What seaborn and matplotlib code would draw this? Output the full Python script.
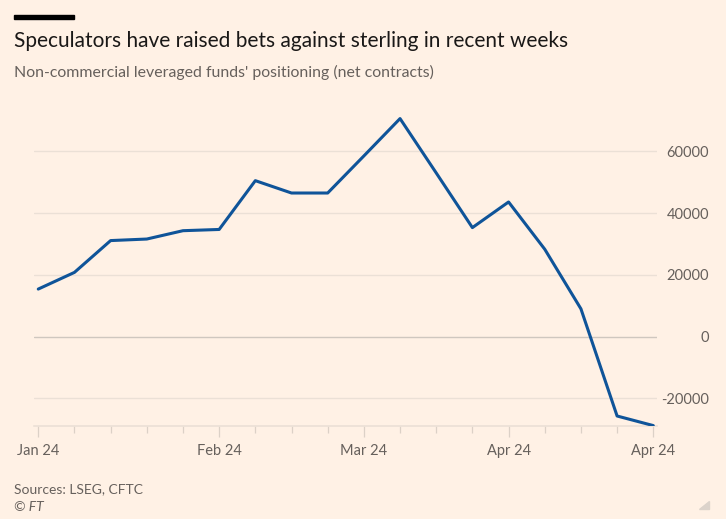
import pandas as pd
import seaborn as sns
import matplotlib.pyplot as plt
import matplotlib.dates as mdates
from matplotlib.patches import Polygon, Rectangle

# weekly CFTC positioning, GBP non-commercial leveraged funds
dates = pd.date_range("2024-01-02", periods=18, freq="7D")
net_contracts = [15400, 20800, 31100, 31600, 34300, 34700, 50500, 46500, 46500,
                 58500, 70600, 53000, 35300, 43600, 28300, 9000, -25700, -28800]
label_dates = ["2024-01-02", "2024-02-06", "2024-03-05", "2024-04-02", "2024-04-30"]
label_text = ["Jan 24", "Feb 24", "Mar 24", "Apr 24", "Apr 24"]
y_ticks = [-20000, 0, 20000, 40000, 60000]

title = "Speculators have raised bets against sterling in recent weeks"
subtitle = "Non-commercial leveraged funds' positioning (net contracts)"
source = "Sources: LSEG, CFTC"

bg = "#FFF1E5"
grey_text = "#66605C"
grid_col = "#EBE0D6"
line_col = "#0F5499"

sns.set_theme(style="white")
plt.rcParams["font.family"] = ["Lato", "DejaVu Sans"]

df = pd.DataFrame({"date": dates, "net": net_contracts})

fig = plt.figure(figsize=(7.26, 5.19), dpi=100, facecolor=bg)
ax = fig.add_axes([0.0468, 0.180, 0.9056 - 0.0468, 0.7977 - 0.180])
ax.set_facecolor(bg)

for v in y_ticks:
    ax.axhline(v, color="#CFC7BF" if v == 0 else grid_col, linewidth=1.0, zorder=1)

sns.lineplot(data=df, x="date", y="net", color=line_col, linewidth=2.2, ax=ax, zorder=3)

ax.set_xlim(dates[0] - pd.Timedelta(days=0.83), dates[-1] + pd.Timedelta(days=0.81))
ax.set_ylim(df["net"].min(), 75000)

for s in ["top", "left", "right"]:
    ax.spines[s].set_visible(False)
ax.spines["bottom"].set_color(grid_col)
ax.spines["bottom"].set_linewidth(1.2)

ax.set_xticks(pd.to_datetime(label_dates))
ax.set_xticklabels(label_text)
ax.set_xticks(dates, minor=True)
ax.tick_params(axis="x", which="major", length=8, width=0.9, color="#DCD1C7",
               pad=5.5, labelsize=10.5, labelcolor=grey_text, bottom=True)
ax.tick_params(axis="x", which="minor", length=5, width=0.9, color="#DCD1C7", bottom=True)

ax.yaxis.tick_right()
ax.set_yticks(y_ticks)
ax.set_yticklabels([str(v) for v in y_ticks])
ax.tick_params(axis="y", length=0, pad=37, labelsize=10.5, labelcolor=grey_text)
for lab in ax.get_yticklabels():
    lab.set_horizontalalignment("right")

ax.set_xlabel("")
ax.set_ylabel("")

# header and footer
fig.patches.append(Rectangle((14 / 726, 1 - 19 / 519), 60 / 726, 4 / 519,
                             transform=fig.transFigure, color="black", figure=fig))
fig.text(14 / 726, 1 - 46.7 / 519, title, fontsize=15, color="#1A1817", va="baseline")
fig.text(14 / 726, 1 - 77.3 / 519, subtitle, fontsize=11.4, color=grey_text, va="baseline")
fig.text(14 / 726, 1 - 493.3 / 519, source, fontsize=10, color=grey_text, va="baseline")
fig.text(14 / 726, 1 - 511 / 519, "© FT", fontsize=10, color=grey_text,
         style="italic", va="baseline")
fig.patches.append(Polygon([(699 / 726, 1 - 509.3 / 519), (708.7 / 726, 1 - 509.3 / 519),
                            (708.7 / 726, 1 - 500.7 / 519)],
                           transform=fig.transFigure, color="#DCD3CB", figure=fig))

fig.savefig("out.png", dpi=100, facecolor=bg)
